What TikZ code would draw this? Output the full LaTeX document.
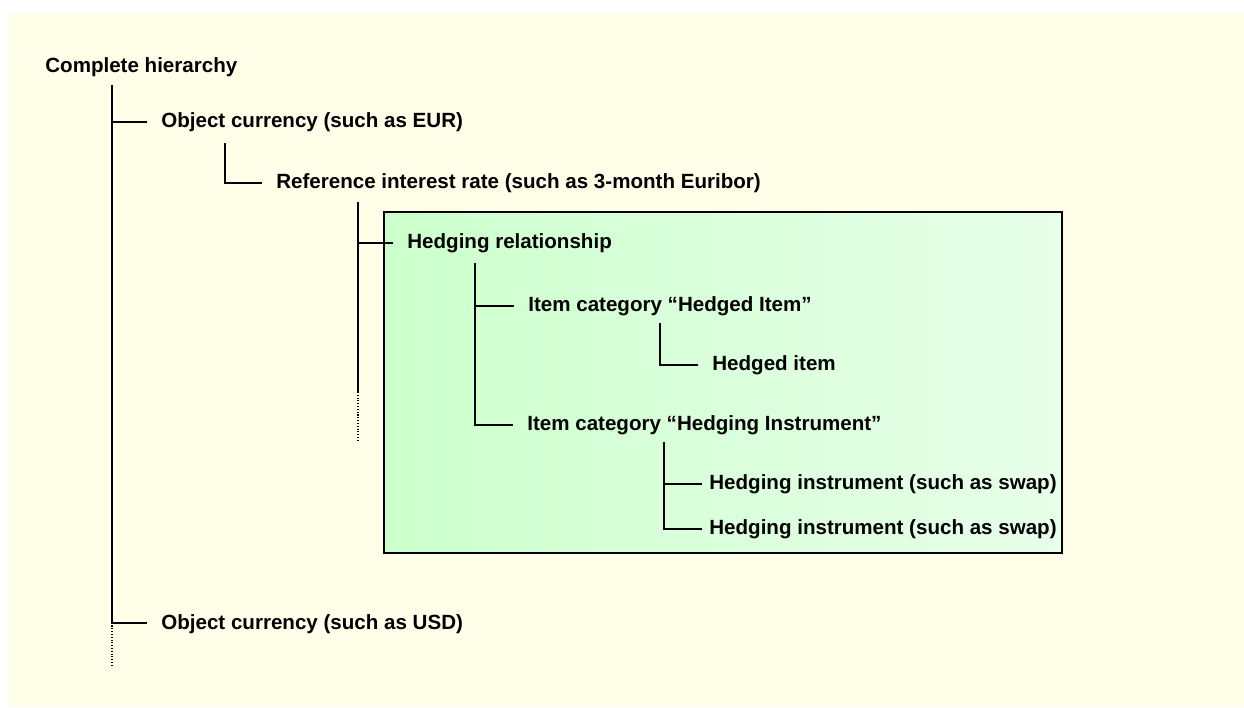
\documentclass[tikz,border=0pt]{standalone}
\usepackage{fontspec}
\setmainfont{Liberation Sans}
\definecolor{creme}{RGB}{255,254,233}
\definecolor{gruenL}{RGB}{204,255,204}
\definecolor{gruenR}{RGB}{232,255,234}
\begin{document}
\begin{tikzpicture}[
      font=\fontsize{11.7pt}{14pt}\selectfont\bfseries,
      eintrag/.style={anchor=base west, inner xsep=0.28cm, inner ysep=0pt, text height=0.72em, text depth=0pt},
      ast/.style={line width=1pt},
      fortsetzung/.style={densely dotted, line width=0.6pt}
    ]
      \useasboundingbox (0,0) rectangle (24.88,14.14);
      \fill[creme] (0.16,0) rectangle (24.88,13.86);
      \draw[line width=1.1pt, left color=gruenL, right color=gruenR] (7.68,3.08) rectangle (21.24,9.90);
      \node[eintrag] (gesamt) at (0.62,12.68) {Complete hierarchy};
      \node[eintrag] (eur) at (2.94,11.58) {Object currency (such as EUR)};
      \node[eintrag] (zins) at (5.24,10.36) {Reference interest rate (such as 3-month Euribor)};
      \node[eintrag] (bez) at (7.86,9.16) {Hedging relationship};
      \node[eintrag] (kat1) at (10.28,7.90) {Item category “Hedged Item”};
      \node[eintrag] (grund) at (13.96,6.72) {Hedged item};
      \node[eintrag] (kat2) at (10.26,5.52) {Item category “Hedging Instrument”};
      \node[eintrag, inner xsep=0.14cm] (inst1) at (14.04,4.34) {Hedging instrument (such as swap)};
      \node[eintrag, inner xsep=0.14cm] (inst2) at (14.04,3.44) {Hedging instrument (such as swap)};
      \node[eintrag] (usd) at (2.94,1.56) {Object currency (such as USD)};
      \coordinate (t0) at (2.24,12.44);
      \coordinate (e0) at (2.24,0.84);
      \coordinate (t1) at (4.50,11.28);
      \coordinate (t2) at (7.16,10.10);
      \coordinate (m2) at (7.16,6.30);
      \coordinate (e2) at (7.16,5.30);
      \coordinate (t3) at (9.50,8.88);
      \coordinate (t4) at (13.20,7.68);
      \coordinate (t5) at (13.28,5.30);
      \draw[ast] (t0) |- (eur.west);
      \draw[ast] (t0) |- (usd.west);
      \draw[fortsetzung] (usd.west -| t0) -- (e0);
      \draw[ast] (t1) |- (zins.west);
      \draw[ast] (t2) -- (m2);
      \draw[fortsetzung] (m2) -- (e2);
      \draw[ast] (t2 |- bez.west) -- (bez.west);
      \draw[ast] (t3) |- (kat1.west);
      \draw[ast] (t3) |- (kat2.west);
      \draw[ast] (t4) |- (grund.west);
      \draw[ast] (t5) |- (inst1.west);
      \draw[ast] (t5) |- (inst2.west);
    \end{tikzpicture}
\end{document}
